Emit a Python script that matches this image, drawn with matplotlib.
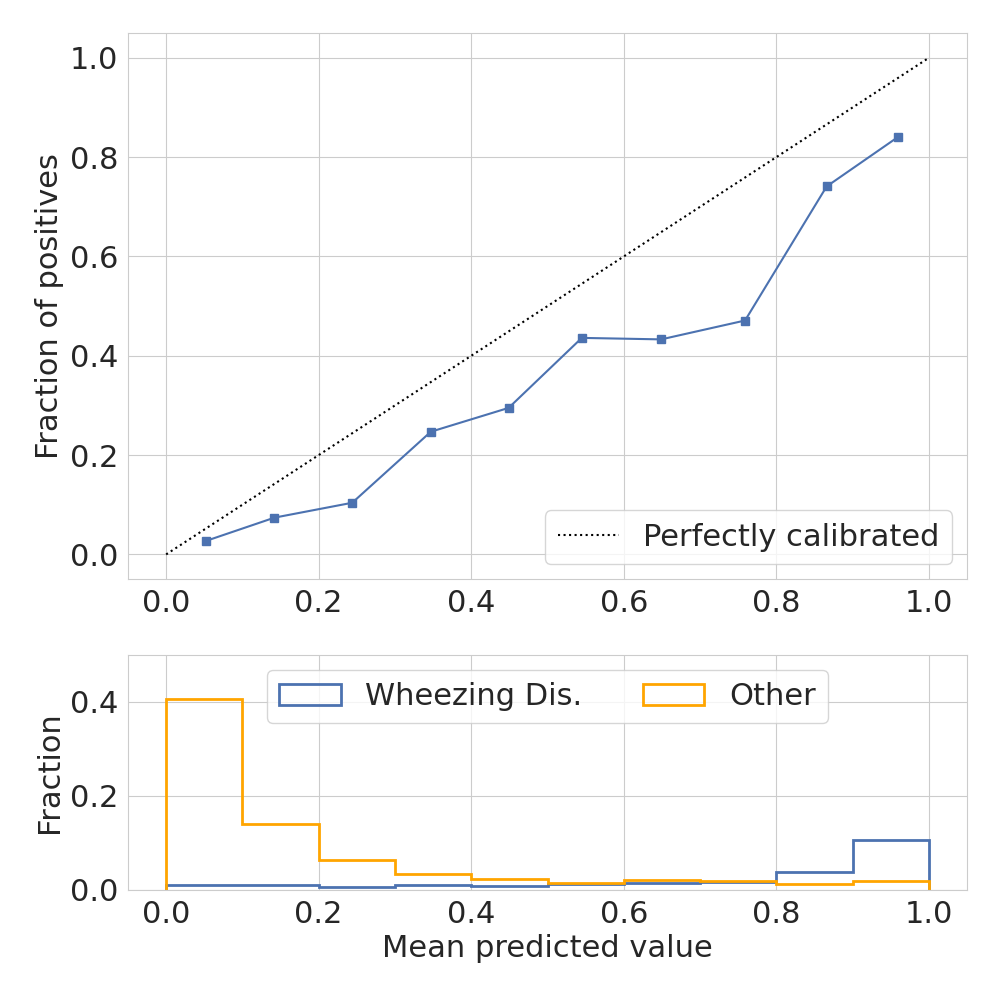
import numpy as np
import matplotlib
matplotlib.use("Agg")
from matplotlib import pyplot as plt
import seaborn as sns

# calibration curve points
mean_predicted = [0.052, 0.142, 0.244, 0.347, 0.449, 0.545, 0.649, 0.759, 0.866, 0.959]
fraction_positives = [0.027, 0.074, 0.104, 0.247, 0.295, 0.436, 0.433, 0.471, 0.741, 0.840]

# histogram of predicted values (fraction per bin)
bin_edges = [0.0, 0.1, 0.2, 0.3, 0.4, 0.5, 0.6, 0.7, 0.8, 0.9, 1.0]
wheezing_frac = [0.010, 0.010, 0.006, 0.010, 0.008, 0.012, 0.015, 0.017, 0.038, 0.106]
other_frac = [0.406, 0.140, 0.063, 0.034, 0.023, 0.015, 0.021, 0.019, 0.012, 0.019]

sns.set_style("whitegrid")
plt.rcParams['font.size'] = 22
plt.rcParams['axes.labelsize'] = 22
plt.rcParams['xtick.labelsize'] = 22
plt.rcParams['ytick.labelsize'] = 22
plt.rcParams['legend.fontsize'] = 22

blue = sns.color_palette("deep")[0]

fig = plt.figure(figsize=(10, 10), dpi=100)
ax1 = plt.subplot2grid((3, 1), (0, 0), rowspan=2)
ax2 = plt.subplot2grid((3, 1), (2, 0))

ax1.plot([0, 1], [0, 1], "k:", label="Perfectly calibrated")
ax1.plot(mean_predicted, fraction_positives, "s-", color=blue)
ax1.set_ylabel("Fraction of positives")
ax1.set_xlim([-0.05, 1.05])
ax1.set_ylim([-0.05, 1.05])
ax1.legend(loc="lower right")

centers = np.array(bin_edges[:-1]) + 0.05
ax2.hist(centers, bins=bin_edges, weights=wheezing_frac, histtype="step", lw=2,
         color=blue, label="Wheezing Dis.")
ax2.hist(centers, bins=bin_edges, weights=other_frac, histtype="step", lw=2,
         color="orange", label="Other")
ax2.set_xlabel("Mean predicted value")
ax2.set_ylabel("Fraction")
ax2.set_xlim([-0.05, 1.05])
ax2.set_ylim([0, 0.5])
ax2.set_yticks([0.0, 0.2, 0.4])
ax2.legend(loc="upper center", ncol=2)

plt.subplots_adjust(left=0.128, right=0.967, top=0.967, bottom=0.11, hspace=0.32)
plt.savefig("out.png")
